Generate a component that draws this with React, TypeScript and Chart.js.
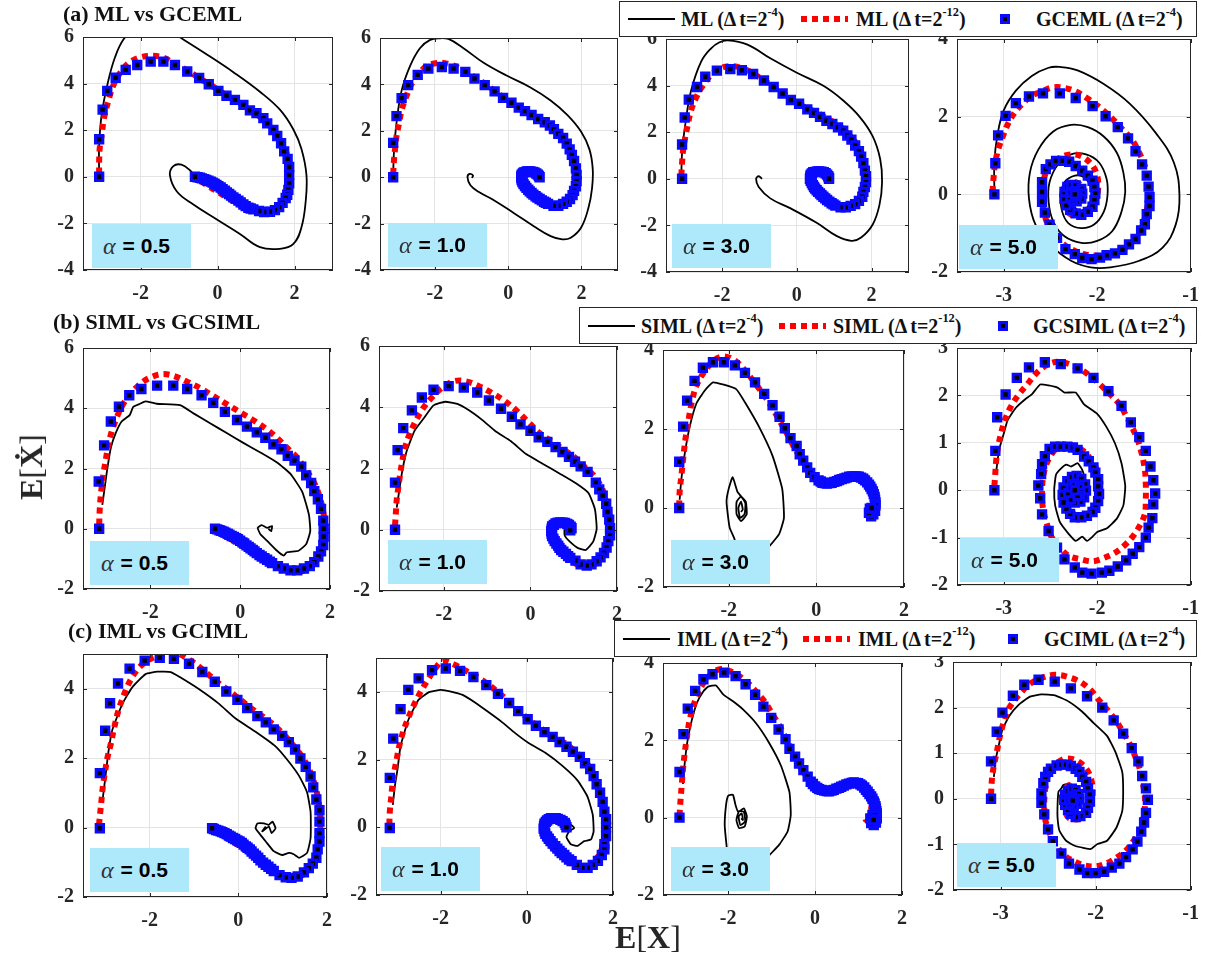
import React, { useEffect, useRef } from "react";
import { Chart, registerables } from "chart.js";
Chart.register(...registerables);

type Pt = [number, number];

// ---------- tick values ----------
const xTicksWide = [-2, 0, 2];
const xTicksNarrow = [-3, -2, -1];
const yTicksRowA = [-4, -2, 0, 2, 4, 6];
const yTicksA4 = [-2, 0, 2, 4];
const yTicksB12 = [-2, 0, 2, 4, 6];
const yTicksB3 = [-2, 0, 2, 4];
const yTicksSpiral = [-2, -1, 0, 1, 2, 3];
const yTicksC12 = [-2, 0, 2, 4];
const yTicksC3 = [-2, 0, 2, 4];

const alphas = ["0.5", "1.0", "3.0", "5.0"];
const rowTitles = ["(a) ML vs GCEML", "(b) SIML vs GCSIML", "(c) IML vs GCIML"];
const methodCoarse = ["ML", "SIML", "IML"];
const methodGC = ["GCEML", "GCSIML", "GCIML"];

// ---------- row (a) ----------
const a1Black: Pt[] = [[-3.08,0],[-3.08,1.33],[-3.01,2.73],[-2.84,4.14],[-2.67,5.12],[-2.45,5.89],[-2.2,6.25],[-1.6,6.35],[-1.1,6.1],[-0.9,5.9],[-0.29,5.26],[0.41,4.49],[1.1,3.65],[1.62,2.88],[1.97,2.03],[2.18,1.19],[2.31,0.07],[2.29,-1.05],[2.18,-2.17],[1.97,-2.88],[1.62,-3.09],[1.1,-3.02],[0.58,-2.45],[-0.03,-1.82],[-0.63,-1.19],[-1.06,-0.63],[-1.24,0.07],[-1.15,0.46],[-0.94,0.52],[-0.72,0.28],[-0.59,0.0]];
const a1Red: Pt[] = [[-3.08,0.14],[-3.08,0.7],[-3.06,1.33],[-3.01,1.82],[-2.97,2.38],[-2.9,2.9],[-2.81,3.44],[-2.71,3.93],[-2.54,4.45],[-2.32,4.87],[-2.02,5.12],[-1.69,5.19],[-1.41,5.12],[-1.11,4.84],[-0.78,4.56],[-0.46,4.21],[-0.17,3.93],[0.15,3.58],[0.45,3.3],[0.71,3.02],[0.97,2.73],[1.23,2.38],[1.45,2.01],[1.62,1.61],[1.75,1.19],[1.84,0.77],[1.86,0.35],[1.86,-0.07],[1.81,-0.63],[1.71,-1.05],[1.53,-1.4],[1.27,-1.54],[1.01,-1.5],[0.71,-1.33],[0.41,-1.05],[0.06,-0.7],[-0.29,-0.35],[-0.59,-0.03]];
const a1Blue: Pt[] = [[-3.08,0],[-3.08,1.61],[-2.99,2.88],[-2.87,3.69],[-2.65,4.25],[-2.39,4.59],[-2.09,4.8],[-1.74,4.94],[-1.41,4.94],[-1.11,4.8],[-0.79,4.52],[-0.48,4.24],[-0.23,3.97],[0.02,3.69],[0.23,3.48],[0.45,3.3],[0.67,3.09],[0.84,2.85],[1.01,2.73],[1.19,2.52],[1.29,2.29],[1.45,2.01],[1.55,1.75],[1.65,1.44],[1.73,1.09],[1.82,0.77],[1.86,0.42],[1.86,0.07],[1.86,-0.28],[1.84,-0.56],[1.81,-0.77],[1.77,-0.91],[1.69,-1.12],[1.6,-1.3],[1.49,-1.43],[1.36,-1.5],[1.21,-1.51],[1.08,-1.47],[0.93,-1.4],[0.86,-1.36],[0.8,-1.33],[0.73,-1.26],[0.67,-1.19],[0.6,-1.1],[0.54,-1.02],[0.47,-0.95],[0.41,-0.88],[0.35,-0.81],[0.3,-0.74],[0.24,-0.67],[0.19,-0.6],[0.13,-0.53],[0.08,-0.46],[0.02,-0.4],[-0.03,-0.35],[-0.08,-0.3],[-0.13,-0.25],[-0.18,-0.21],[-0.24,-0.17],[-0.3,-0.13],[-0.35,-0.1],[-0.41,-0.07],[-0.46,-0.04],[-0.52,-0.02],[-0.59,0]];

const a2Black: Pt[] = [[-3.14,0.07],[-3.12,1.06],[-3.05,2.32],[-2.91,3.73],[-2.68,4.79],[-2.41,5.56],[-2.13,5.92],[-1.86,5.99],[-1.63,5.96],[-1.22,5.56],[-0.67,4.93],[-0.03,4.37],[0.61,3.87],[1.16,3.31],[1.62,2.68],[1.99,1.97],[2.22,1.2],[2.31,0.35],[2.29,-0.49],[2.19,-1.34],[1.99,-2.18],[1.71,-2.61],[1.48,-2.68],[1.16,-2.54],[0.7,-2.11],[0.16,-1.55],[-0.39,-0.99],[-0.81,-0.63],[-1.03,-0.35],[-1.11,0],[-1.05,0.14],[-0.96,0.07],[-0.99,-0.03]];
const a2Red: Pt[] = [[-3.14,0.14],[-3.12,0.7],[-3.09,1.2],[-3.05,1.76],[-2.98,2.32],[-2.91,2.89],[-2.79,3.45],[-2.64,4.01],[-2.45,4.44],[-2.22,4.79],[-1.9,4.93],[-1.58,4.86],[-1.22,4.61],[-0.9,4.3],[-0.62,4.01],[-0.35,3.7],[-0.07,3.38],[0.2,3.1],[0.48,2.86],[0.75,2.61],[1.03,2.32],[1.25,2.04],[1.44,1.76],[1.6,1.41],[1.73,0.99],[1.8,0.49],[1.83,0.07],[1.8,-0.49],[1.71,-0.92],[1.53,-1.17],[1.3,-1.23],[1.03,-1.06],[0.75,-0.77],[0.52,-0.49],[0.36,-0.21],[0.34,0.07],[0.48,0.28],[0.66,0.28],[0.84,0.07]];
const a2Blue: Pt[] = [[-3.14,0],[-3.14,1.48],[-3.05,2.63],[-2.91,3.41],[-2.73,3.97],[-2.47,4.41],[-2.18,4.68],[-1.81,4.75],[-1.49,4.68],[-1.17,4.54],[-0.92,4.25],[-0.64,3.97],[-0.37,3.7],[-0.14,3.42],[0.09,3.21],[0.29,3.0],[0.46,2.85],[0.64,2.68],[0.82,2.51],[1.0,2.37],[1.14,2.23],[1.25,2.07],[1.37,1.87],[1.5,1.69],[1.6,1.45],[1.68,1.2],[1.74,0.96],[1.8,0.7],[1.85,0.38],[1.87,0.1],[1.87,-0.17],[1.85,-0.39],[1.8,-0.59],[1.76,-0.77],[1.69,-0.94],[1.6,-1.06],[1.5,-1.15],[1.37,-1.23],[1.24,-1.23],[1.09,-1.15],[1.03,-1.1],[0.98,-1.06],[0.92,-1.0],[0.86,-0.94],[0.8,-0.88],[0.75,-0.82],[0.69,-0.75],[0.64,-0.68],[0.59,-0.61],[0.55,-0.54],[0.5,-0.46],[0.46,-0.38],[0.42,-0.3],[0.39,-0.21],[0.37,-0.12],[0.36,-0.04],[0.36,0.04],[0.37,0.11],[0.4,0.16],[0.43,0.21],[0.48,0.23],[0.52,0.25],[0.56,0.25],[0.61,0.25],[0.67,0.23],[0.72,0.21],[0.77,0.16],[0.81,0.11],[0.84,0.05],[0.86,0]];

const a3Black: Pt[] = [[-3.09,0.03],[-3.07,1.12],[-2.98,2.38],[-2.83,3.78],[-2.56,5.03],[-2.3,5.59],[-2.08,5.85],[-1.85,5.94],[-1.32,5.76],[-0.71,5.17],[0,4.55],[0.71,3.99],[1.24,3.36],[1.68,2.66],[2.03,1.82],[2.23,0.84],[2.28,-0.14],[2.21,-1.12],[2.03,-1.96],[1.72,-2.52],[1.46,-2.66],[1.06,-2.45],[0.53,-1.89],[-0.18,-1.26],[-0.71,-0.84],[-1.02,-0.35],[-1.09,0],[-1.02,0.11],[-0.93,0]];
const a3Red: Pt[] = [[-3.09,0.14],[-3.07,0.7],[-3.04,1.26],[-2.98,1.82],[-2.91,2.38],[-2.83,2.94],[-2.69,3.5],[-2.52,3.99],[-2.28,4.48],[-1.99,4.78],[-1.68,4.83],[-1.37,4.69],[-1.06,4.41],[-0.79,4.13],[-0.53,3.85],[-0.26,3.57],[0,3.24],[0.31,3.01],[0.62,2.77],[0.88,2.52],[1.15,2.27],[1.37,1.93],[1.55,1.61],[1.68,1.19],[1.78,0.7],[1.84,0.14],[1.82,-0.42],[1.72,-0.84],[1.55,-1.12],[1.32,-1.26],[1.06,-1.19],[0.79,-0.94],[0.57,-0.63],[0.4,-0.28],[0.35,0.07],[0.46,0.28],[0.66,0.31],[0.84,0.14],[0.88,0]];
const a3Blue: Pt[] = [[-3.07,0],[-3.07,1.47],[-3.0,2.63],[-2.89,3.4],[-2.67,3.94],[-2.45,4.38],[-2.14,4.64],[-1.78,4.71],[-1.47,4.66],[-1.17,4.5],[-0.88,4.22],[-0.62,3.94],[-0.38,3.66],[-0.16,3.38],[0.06,3.22],[0.28,2.98],[0.46,2.83],[0.62,2.66],[0.79,2.49],[0.95,2.35],[1.1,2.21],[1.24,2.07],[1.35,1.86],[1.46,1.68],[1.56,1.43],[1.66,1.19],[1.72,0.95],[1.78,0.67],[1.82,0.35],[1.85,0.11],[1.85,-0.14],[1.82,-0.35],[1.78,-0.56],[1.75,-0.77],[1.66,-0.95],[1.56,-1.09],[1.44,-1.16],[1.31,-1.22],[1.17,-1.22],[1.03,-1.15],[0.98,-1.1],[0.93,-1.05],[0.87,-0.98],[0.81,-0.91],[0.76,-0.84],[0.71,-0.77],[0.66,-0.7],[0.62,-0.63],[0.57,-0.56],[0.53,-0.49],[0.49,-0.42],[0.46,-0.35],[0.43,-0.27],[0.4,-0.18],[0.37,-0.09],[0.35,0],[0.36,0.09],[0.37,0.17],[0.4,0.23],[0.44,0.28],[0.5,0.3],[0.55,0.32],[0.6,0.32],[0.66,0.31],[0.72,0.28],[0.77,0.24],[0.81,0.18],[0.84,0.11],[0.86,0.05],[0.86,0]];

const a4Black: Pt[] = [[-3.1,0.02],[-3.1,0.82],[-3.07,1.49],[-3.0,2.16],[-2.87,2.67],[-2.7,3.05],[-2.52,3.26],[-2.4,3.28],[-2.21,3.19],[-1.93,2.84],[-1.65,2.33],[-1.37,1.57],[-1.18,0.82],[-1.12,-0.03],[-1.16,-0.78],[-1.3,-1.37],[-1.55,-1.71],[-1.86,-1.88],[-2.07,-1.88],[-2.28,-1.71],[-2.49,-1.33],[-2.66,-0.78],[-2.73,-0.11],[-2.72,0.56],[-2.63,1.15],[-2.47,1.62],[-2.28,1.79],[-2.1,1.73],[-1.93,1.49],[-1.79,1.07],[-1.72,0.56],[-1.7,0.06],[-1.74,-0.45],[-1.84,-0.95],[-2.0,-1.2],[-2.17,-1.25],[-2.35,-1.08],[-2.47,-0.7],[-2.52,-0.19],[-2.51,0.31],[-2.42,0.77],[-2.28,1.03],[-2.12,1.03],[-1.98,0.82],[-1.9,0.4],[-1.89,-0.03],[-1.93,-0.45],[-2.03,-0.77],[-2.17,-0.87],[-2.31,-0.74],[-2.38,-0.4],[-2.39,-0.03],[-2.35,0.31],[-2.24,0.48],[-2.14,0.44],[-2.07,0.19],[-2.06,-0.11],[-2.12,-0.36],[-2.21,-0.4],[-2.26,-0.19],[-2.25,0.06],[-2.19,0.14],[-2.16,0],[-2.19,-0.1],[-2.22,0]];
const a4Red: Pt[] = [[-3.12,0.06],[-3.11,0.4],[-3.09,0.82],[-3.06,1.15],[-3.01,1.49],[-2.96,1.79],[-2.89,2.08],[-2.8,2.33],[-2.7,2.54],[-2.59,2.65],[-2.49,2.75],[-2.37,2.75],[-2.23,2.65],[-2.1,2.46],[-1.98,2.25],[-1.86,2.0],[-1.74,1.7],[-1.63,1.41],[-1.55,1.07],[-1.49,0.73],[-1.46,0.4],[-1.45,0.06],[-1.46,-0.28],[-1.49,-0.61],[-1.55,-0.95],[-1.62,-1.2],[-1.72,-1.41],[-1.86,-1.54],[-2.0,-1.58],[-2.14,-1.54],[-2.28,-1.41],[-2.4,-1.2],[-2.51,-0.87],[-2.57,-0.45],[-2.59,-0.03],[-2.57,0.4],[-2.51,0.73],[-2.4,0.94],[-2.28,1.03],[-2.16,0.97],[-2.06,0.77],[-2.0,0.48],[-1.99,0.14],[-2.02,-0.19],[-2.09,-0.45],[-2.19,-0.57],[-2.3,-0.49],[-2.36,-0.24],[-2.37,0.06],[-2.31,0.27],[-2.23,0.31],[-2.16,0.19],[-2.14,-0.03],[-2.19,-0.17],[-2.24,-0.07],[-2.23,0.02]];
const a4Blue: Pt[] = [[-3.1,0],[-3.09,0.8],[-3.06,1.52],[-2.98,2.02],[-2.87,2.35],[-2.73,2.52],[-2.58,2.6],[-2.4,2.6],[-2.23,2.48],[-2.05,2.27],[-1.91,2.01],[-1.78,1.73],[-1.67,1.44],[-1.59,1.11],[-1.52,0.77],[-1.47,0.48],[-1.45,0.2],[-1.44,-0.07],[-1.44,-0.3],[-1.47,-0.51],[-1.49,-0.77],[-1.53,-0.93],[-1.59,-1.15],[-1.66,-1.29],[-1.73,-1.43],[-1.81,-1.52],[-1.9,-1.57],[-1.97,-1.63],[-2.06,-1.67],[-2.16,-1.64],[-2.24,-1.54],[-2.34,-1.41],[-2.43,-1.12],[-2.51,-0.78],[-2.56,-0.47],[-2.59,-0.19],[-2.59,0.06],[-2.59,0.31],[-2.55,0.65],[-2.5,0.77],[-2.44,0.86],[-2.37,0.86],[-2.3,0.84],[-2.23,0.73],[-2.16,0.61],[-2.1,0.48],[-2.05,0.35],[-2.03,0.19],[-2.02,0.02],[-2.03,-0.15],[-2.05,-0.32],[-2.1,-0.45],[-2.17,-0.53],[-2.23,-0.49],[-2.29,-0.4],[-2.33,-0.28],[-2.35,-0.11],[-2.35,0.06],[-2.32,0.19],[-2.28,0.24],[-2.23,0.23],[-2.17,0.14],[-2.16,0.02],[-2.17,-0.11],[-2.22,-0.18],[-2.26,-0.15],[-2.29,-0.07],[-2.28,0.04],[-2.24,0.08],[-2.21,0.02],[-2.23,-0.04],[-2.24,0]];

// ---------- row (b) ----------
const b1Black: Pt[] = [[-3.07,0.79],[-3.02,1.33],[-2.96,1.98],[-2.88,2.69],[-2.77,3.18],[-2.64,3.56],[-2.46,3.77],[-2.38,4.05],[-2.23,4.15],[-2.11,4.23],[-1.86,4.15],[-1.34,4.1],[-1.04,3.83],[-0.67,3.5],[-0.3,3.18],[0.07,2.85],[0.45,2.53],[0.82,2.2],[1.12,1.82],[1.38,1.23],[1.53,0.47],[1.56,-0.08],[1.47,-0.51],[1.3,-0.73],[1.04,-0.78],[0.97,-0.89],[0.82,-0.73],[0.6,-0.4],[0.45,-0.18],[0.39,0.03],[0.48,0.12],[0.6,0.03],[0.71,0.09],[0.69,-0.08],[0.63,0]];
const b1Red: Pt[] = [[-3.14,0.14],[-3.13,0.57],[-3.11,1.01],[-3.08,1.44],[-3.04,1.88],[-2.99,2.31],[-2.94,2.74],[-2.87,3.18],[-2.77,3.61],[-2.64,4.05],[-2.47,4.43],[-2.27,4.75],[-2.03,5.0],[-1.75,5.13],[-1.49,5.08],[-1.15,4.86],[-0.86,4.64],[-0.56,4.37],[-0.26,4.1],[0.04,3.83],[0.34,3.56],[0.6,3.29],[0.82,3.02],[1.04,2.69],[1.27,2.36],[1.45,1.98],[1.64,1.55],[1.77,1.06],[1.86,0.47],[1.88,-0.08],[1.82,-0.62],[1.7,-1.05],[1.53,-1.32],[1.3,-1.43],[1.04,-1.38],[0.74,-1.21],[0.45,-0.94],[0.15,-0.67],[-0.15,-0.4],[-0.41,-0.18],[-0.56,0]];
const b1Blue: Pt[] = [[-3.14,0],[-3.15,1.57],[-3.03,2.77],[-2.88,3.56],[-2.7,4.05],[-2.47,4.43],[-2.2,4.64],[-1.85,4.75],[-1.49,4.75],[-1.18,4.64],[-0.86,4.43],[-0.6,4.18],[-0.34,3.88],[-0.07,3.61],[0.15,3.39],[0.37,3.2],[0.56,3.02],[0.74,2.8],[0.92,2.64],[1.06,2.42],[1.21,2.26],[1.36,2.06],[1.47,1.77],[1.58,1.52],[1.65,1.25],[1.73,0.98],[1.8,0.66],[1.85,0.27],[1.86,0],[1.86,-0.26],[1.85,-0.54],[1.8,-0.75],[1.74,-0.92],[1.65,-1.11],[1.55,-1.24],[1.42,-1.32],[1.27,-1.38],[1.12,-1.38],[0.97,-1.32],[0.84,-1.24],[0.71,-1.14],[0.66,-1.09],[0.6,-1.03],[0.54,-0.98],[0.48,-0.92],[0.43,-0.87],[0.37,-0.81],[0.32,-0.75],[0.28,-0.7],[0.23,-0.65],[0.19,-0.6],[0.14,-0.55],[0.09,-0.49],[0.05,-0.45],[0,-0.4],[-0.05,-0.35],[-0.09,-0.31],[-0.14,-0.27],[-0.19,-0.24],[-0.24,-0.2],[-0.28,-0.16],[-0.33,-0.13],[-0.37,-0.1],[-0.42,-0.07],[-0.46,-0.05],[-0.51,-0.02],[-0.56,0]];

const b2Black: Pt[] = [[-3.09,0.72],[-3.03,1.3],[-2.96,1.94],[-2.86,2.57],[-2.68,3.23],[-2.47,3.63],[-2.24,4.06],[-1.97,4.18],[-1.69,4.11],[-1.42,3.9],[-1.11,3.58],[-0.8,3.21],[-0.45,2.89],[-0.1,2.47],[0.29,2.15],[0.68,1.83],[1.06,1.51],[1.34,1.2],[1.49,0.67],[1.53,0.03],[1.45,-0.39],[1.28,-0.66],[1.1,-0.6],[0.91,-0.39],[0.79,-0.18],[0.79,0.03],[0.89,0.14],[1.0,0.03],[0.95,-0.07]];
const b2Red: Pt[] = [[-3.13,0.14],[-3.11,0.56],[-3.09,0.99],[-3.05,1.41],[-3.01,1.83],[-2.96,2.26],[-2.9,2.68],[-2.8,3.1],[-2.66,3.53],[-2.49,3.95],[-2.28,4.32],[-2.04,4.64],[-1.77,4.85],[-1.5,4.85],[-1.19,4.69],[-0.88,4.46],[-0.61,4.22],[-0.33,3.9],[-0.06,3.53],[0.21,3.16],[0.48,2.89],[0.75,2.63],[1.03,2.36],[1.26,2.04],[1.49,1.73],[1.65,1.36],[1.76,0.93],[1.83,0.46],[1.83,-0.07],[1.76,-0.6],[1.62,-0.97],[1.41,-1.19],[1.18,-1.19],[0.95,-1.03],[0.75,-0.82],[0.58,-0.55],[0.48,-0.23],[0.5,0.05],[0.62,0.21],[0.79,0.24],[0.92,0.12],[0.95,-0.02]];
const b2Blue: Pt[] = [[-3.13,0],[-3.13,1.54],[-3.07,2.6],[-2.94,3.32],[-2.74,3.9],[-2.51,4.32],[-2.24,4.57],[-1.89,4.69],[-1.54,4.64],[-1.23,4.48],[-0.96,4.22],[-0.68,3.95],[-0.43,3.69],[-0.23,3.44],[0,3.23],[0.19,3.02],[0.39,2.87],[0.58,2.7],[0.74,2.54],[0.89,2.38],[1.03,2.22],[1.16,2.07],[1.32,1.89],[1.51,1.54],[1.59,1.32],[1.67,1.11],[1.75,0.85],[1.78,0.58],[1.82,0.33],[1.84,0.05],[1.84,-0.18],[1.8,-0.37],[1.76,-0.58],[1.7,-0.76],[1.62,-0.9],[1.53,-1.03],[1.41,-1.13],[1.3,-1.17],[1.16,-1.13],[1.04,-1.01],[0.92,-0.92],[0.87,-0.86],[0.82,-0.79],[0.76,-0.72],[0.71,-0.66],[0.67,-0.59],[0.64,-0.52],[0.6,-0.45],[0.56,-0.37],[0.53,-0.29],[0.5,-0.21],[0.49,-0.13],[0.48,-0.05],[0.49,0.03],[0.5,0.11],[0.54,0.16],[0.58,0.21],[0.63,0.23],[0.69,0.24],[0.75,0.23],[0.8,0.22],[0.85,0.19],[0.89,0.16],[0.93,0.1],[0.95,0.05],[0.92,-0.02]];

const b3Black: Pt[] = [[-3.12,0.21],[-3.08,0.74],[-3.0,1.4],[-2.89,2.06],[-2.74,2.64],[-2.55,2.97],[-2.36,3.18],[-2.14,3.13],[-1.83,3.01],[-1.61,2.64],[-1.31,2.06],[-1.0,1.32],[-0.78,0.49],[-0.74,-0.25],[-0.85,-0.66],[-1.15,-1.07],[-1.31,-1.28],[-1.61,-1.24],[-1.83,-0.99],[-1.87,-0.78],[-1.98,-0.49],[-2.05,0.16],[-2.0,0.49],[-1.91,0.78],[-1.8,0.41],[-1.68,0.25],[-1.61,0.16],[-1.59,-0.16],[-1.72,-0.33],[-1.82,-0.16],[-1.82,0.16],[-1.72,0.29],[-1.62,0.12],[-1.64,-0.16],[-1.74,-0.25],[-1.78,0],[-1.72,0.16],[-1.68,-0.04],[-1.72,-0.1]];
const b3Red: Pt[] = [[-3.13,0.04],[-3.12,0.41],[-3.08,0.82],[-3.04,1.24],[-2.99,1.73],[-2.93,2.14],[-2.85,2.64],[-2.74,3.09],[-2.55,3.46],[-2.32,3.75],[-2.1,3.84],[-1.83,3.71],[-1.61,3.46],[-1.38,3.13],[-1.19,2.85],[-1.02,2.56],[-0.85,2.23],[-0.66,1.86],[-0.48,1.48],[-0.29,1.15],[-0.14,0.91],[0.02,0.74],[0.2,0.62],[0.43,0.62],[0.69,0.74],[0.88,0.82],[1.07,0.76],[1.22,0.58],[1.32,0.33],[1.34,0.08],[1.3,-0.16],[1.22,-0.29],[1.17,-0.08],[1.22,0.04],[1.26,0]];
const b3Blue: Pt[] = [[-3.13,0],[-3.13,1.17],[-3.04,2.06],[-2.95,2.72],[-2.78,3.22],[-2.59,3.55],[-2.36,3.69],[-2.11,3.69],[-1.86,3.61],[-1.63,3.42],[-1.4,3.18],[-1.19,2.89],[-1.0,2.6],[-0.84,2.31],[-0.72,2.02],[-0.59,1.77],[-0.45,1.57],[-0.38,1.36],[-0.3,1.2],[-0.21,1.03],[-0.14,0.89],[-0.04,0.78],[0.05,0.7],[0.1,0.67],[0.14,0.64],[0.19,0.63],[0.24,0.62],[0.3,0.63],[0.35,0.64],[0.41,0.66],[0.47,0.68],[0.52,0.71],[0.58,0.73],[0.64,0.75],[0.69,0.77],[0.75,0.79],[0.81,0.8],[0.87,0.8],[0.92,0.8],[0.97,0.79],[1.02,0.77],[1.07,0.74],[1.11,0.7],[1.16,0.65],[1.2,0.59],[1.23,0.54],[1.26,0.48],[1.29,0.42],[1.31,0.35],[1.33,0.28],[1.34,0.21],[1.35,0.14],[1.35,0.07],[1.34,-0.07],[1.3,-0.16],[1.25,-0.21],[1.2,-0.12],[1.22,-0.02],[1.26,0]];

const b4Black: Pt[] = [[-3.08,0.4],[-3.05,0.85],[-3.0,1.19],[-2.96,1.47],[-2.87,1.74],[-2.77,1.92],[-2.7,2.02],[-2.61,2.23],[-2.52,2.21],[-2.42,2.16],[-2.35,2.06],[-2.23,2.06],[-2.14,1.81],[-2.0,1.61],[-1.9,1.33],[-1.81,0.99],[-1.74,0.57],[-1.7,0.09],[-1.72,-0.32],[-1.79,-0.6],[-1.9,-0.81],[-2.0,-0.88],[-2.05,-0.98],[-2.11,-1.07],[-2.16,-0.98],[-2.23,-1.07],[-2.31,-0.91],[-2.4,-0.67],[-2.45,-0.32],[-2.46,0.02],[-2.44,0.33],[-2.38,0.47],[-2.33,0.54],[-2.28,0.5],[-2.21,0.57],[-2.16,0.43],[-2.12,0.16],[-2.12,-0.19],[-2.17,-0.32],[-2.24,-0.29],[-2.3,-0.08],[-2.28,0.12],[-2.21,0.16],[-2.17,-0.01],[-2.23,-0.12],[-2.24,0]];
const b4Red: Pt[] = [[-3.1,0.09],[-3.09,0.37],[-3.08,0.64],[-3.06,0.92],[-3.03,1.19],[-2.99,1.47],[-2.93,1.74],[-2.85,1.99],[-2.75,2.23],[-2.65,2.47],[-2.54,2.64],[-2.42,2.71],[-2.3,2.66],[-2.17,2.54],[-2.07,2.4],[-1.97,2.23],[-1.86,2.02],[-1.76,1.81],[-1.69,1.57],[-1.62,1.3],[-1.56,1.02],[-1.52,0.74],[-1.49,0.43],[-1.48,0.12],[-1.48,-0.19],[-1.49,-0.5],[-1.55,-0.77],[-1.62,-0.98],[-1.7,-1.15],[-1.81,-1.32],[-1.93,-1.43],[-2.05,-1.5],[-2.17,-1.46],[-2.3,-1.39],[-2.4,-1.22],[-2.49,-0.98],[-2.54,-0.7],[-2.58,-0.39],[-2.59,-0.05],[-2.58,0.26],[-2.54,0.57],[-2.47,0.81],[-2.38,0.95],[-2.28,0.95],[-2.17,0.86],[-2.09,0.71],[-2.02,0.5],[-1.98,0.23],[-1.98,-0.05],[-2.02,-0.29],[-2.09,-0.46],[-2.19,-0.53],[-2.28,-0.46],[-2.33,-0.26],[-2.33,-0.05],[-2.3,0.12],[-2.23,0.19],[-2.17,0.09],[-2.17,-0.08],[-2.23,-0.19],[-2.27,-0.08],[-2.24,0.02]];
const b4Blue: Pt[] = [[-3.1,0],[-3.09,0.83],[-3.07,1.54],[-2.98,2.02],[-2.86,2.37],[-2.73,2.59],[-2.56,2.7],[-2.39,2.66],[-2.21,2.57],[-2.04,2.37],[-1.88,2.09],[-1.74,1.78],[-1.64,1.43],[-1.55,1.12],[-1.48,0.83],[-1.43,0.5],[-1.4,0.21],[-1.38,-0.07],[-1.4,-0.3],[-1.41,-0.59],[-1.45,-0.79],[-1.48,-1.0],[-1.55,-1.2],[-1.62,-1.34],[-1.69,-1.48],[-1.78,-1.61],[-1.87,-1.7],[-1.95,-1.74],[-2.06,-1.76],[-2.16,-1.74],[-2.24,-1.63],[-2.35,-1.46],[-2.43,-1.21],[-2.52,-0.86],[-2.59,-0.51],[-2.61,-0.17],[-2.63,0.1],[-2.6,0.34],[-2.59,0.55],[-2.56,0.72],[-2.51,0.87],[-2.45,0.92],[-2.39,0.92],[-2.32,0.92],[-2.26,0.9],[-2.21,0.85],[-2.14,0.71],[-2.09,0.61],[-2.04,0.48],[-2.02,0.37],[-1.99,0.23],[-1.99,0.08],[-1.98,-0.08],[-1.99,-0.23],[-2.02,-0.37],[-2.05,-0.46],[-2.11,-0.54],[-2.17,-0.57],[-2.24,-0.57],[-2.29,-0.5],[-2.33,-0.39],[-2.36,-0.26],[-2.37,-0.1],[-2.36,0.06],[-2.32,0.19],[-2.27,0.28],[-2.22,0.3],[-2.17,0.24],[-2.13,0.12],[-2.12,-0.01],[-2.14,-0.15],[-2.18,-0.24],[-2.24,-0.26],[-2.28,-0.19],[-2.31,-0.06],[-2.28,0.06],[-2.24,0.1],[-2.19,0.06],[-2.18,-0.05],[-2.21,-0.12],[-2.24,0]];

// ---------- row (c) ----------
const c1Black: Pt[] = [[-3.06,0.78],[-3.0,1.4],[-2.93,2.15],[-2.84,2.81],[-2.61,3.57],[-2.39,4.04],[-2.09,4.42],[-1.82,4.49],[-1.52,4.48],[-1.3,4.32],[-0.89,3.99],[-0.44,3.57],[-0.06,3.14],[0.39,2.76],[0.84,2.34],[1.1,1.96],[1.37,1.49],[1.55,1.02],[1.63,0.45],[1.63,-0.3],[1.55,-0.73],[1.37,-0.87],[1.25,-0.77],[1.14,-0.73],[0.99,-0.79],[0.8,-0.68],[0.62,-0.4],[0.5,-0.21],[0.39,-0.02],[0.43,0.12],[0.58,0.12],[0.69,0.08],[0.77,0.17],[0.84,-0.02],[0.75,-0.16],[0.69,0.03],[0.54,-0.11],[0.62,0.03]];
const c1Red: Pt[] = [[-3.14,0.08],[-3.11,0.45],[-3.08,0.83],[-3.05,1.21],[-3.0,1.63],[-2.95,2.01],[-2.87,2.43],[-2.8,2.86],[-2.7,3.38],[-2.57,3.85],[-2.42,4.27],[-2.24,4.6],[-2.01,4.84],[-1.71,4.98],[-1.41,5.03],[-1.11,4.84],[-0.81,4.56],[-0.51,4.23],[-0.21,3.94],[0.09,3.64],[0.35,3.38],[0.62,3.14],[0.84,2.91],[1.07,2.62],[1.29,2.29],[1.48,1.96],[1.63,1.58],[1.74,1.16],[1.82,0.69],[1.85,0.17],[1.83,-0.35],[1.76,-0.82],[1.59,-1.2],[1.37,-1.43],[1.14,-1.48],[0.88,-1.34],[0.58,-1.1],[0.28,-0.77],[-0.02,-0.49],[-0.32,-0.25],[-0.59,-0.02]];
const c1Blue: Pt[] = [[-3.12,-0.02],[-3.12,1.57],[-3.0,2.79],[-2.89,3.58],[-2.71,4.15],[-2.45,4.58],[-2.11,4.81],[-1.77,4.89],[-1.45,4.86],[-1.11,4.72],[-0.81,4.48],[-0.53,4.2],[-0.27,3.92],[-0.02,3.68],[0.2,3.44],[0.43,3.21],[0.62,3.03],[0.8,2.83],[0.99,2.64],[1.14,2.46],[1.28,2.25],[1.4,1.99],[1.52,1.75],[1.63,1.47],[1.69,1.16],[1.76,0.81],[1.83,0.5],[1.83,0.17],[1.83,-0.16],[1.83,-0.4],[1.79,-0.63],[1.76,-0.87],[1.68,-1.04],[1.59,-1.17],[1.48,-1.29],[1.34,-1.41],[1.2,-1.45],[1.07,-1.43],[0.93,-1.37],[0.8,-1.25],[0.74,-1.19],[0.68,-1.13],[0.62,-1.07],[0.56,-1.01],[0.5,-0.94],[0.45,-0.87],[0.4,-0.81],[0.35,-0.75],[0.3,-0.69],[0.26,-0.63],[0.21,-0.58],[0.17,-0.54],[0.12,-0.49],[0.08,-0.44],[0.03,-0.4],[-0.02,-0.37],[-0.07,-0.33],[-0.12,-0.3],[-0.17,-0.26],[-0.21,-0.23],[-0.26,-0.19],[-0.31,-0.16],[-0.36,-0.13],[-0.4,-0.11],[-0.45,-0.09],[-0.5,-0.07],[-0.55,-0.04],[-0.59,-0.02]];

const c2Black: Pt[] = [[-3.11,0.66],[-3.06,1.24],[-3.0,1.72],[-2.93,2.4],[-2.75,3.17],[-2.51,3.77],[-2.27,3.99],[-2.0,4.06],[-1.76,4.01],[-1.49,3.91],[-1.22,3.7],[-0.9,3.41],[-0.59,3.12],[-0.27,2.78],[0.04,2.49],[0.43,2.2],[0.82,1.82],[1.18,1.38],[1.41,0.9],[1.53,0.37],[1.55,-0.12],[1.49,-0.36],[1.33,-0.41],[1.18,-0.55],[1.02,-0.5],[0.92,-0.29],[0.98,-0.12],[1.1,-0.02],[1.02,0.08],[0.94,-0.07],[1.04,-0.1]];
const c2Red: Pt[] = [[-3.19,0.08],[-3.18,0.46],[-3.15,0.85],[-3.12,1.24],[-3.08,1.62],[-3.02,2.01],[-2.96,2.4],[-2.88,2.78],[-2.77,3.17],[-2.64,3.56],[-2.49,3.94],[-2.31,4.33],[-2.16,4.62],[-1.96,4.91],[-1.69,4.81],[-1.41,4.62],[-1.14,4.43],[-0.9,4.23],[-0.67,3.99],[-0.43,3.73],[-0.2,3.46],[0.04,3.19],[0.27,2.98],[0.51,2.76],[0.75,2.59],[0.98,2.4],[1.2,2.15],[1.41,1.86],[1.57,1.53],[1.69,1.14],[1.76,0.71],[1.8,0.27],[1.8,-0.16],[1.75,-0.6],[1.61,-0.94],[1.41,-1.18],[1.18,-1.18],[0.94,-0.99],[0.71,-0.74],[0.51,-0.5],[0.38,-0.21],[0.39,0.08],[0.55,0.22],[0.75,0.22],[0.92,0.08],[0.96,-0.02]];
const c2Blue: Pt[] = [[-3.18,-0.02],[-3.18,1.46],[-3.1,2.62],[-2.93,3.49],[-2.75,4.06],[-2.51,4.4],[-2.2,4.64],[-1.88,4.69],[-1.55,4.62],[-1.24,4.44],[-0.94,4.2],[-0.67,3.94],[-0.41,3.67],[-0.2,3.43],[0.02,3.19],[0.21,3.0],[0.41,2.81],[0.6,2.67],[0.76,2.52],[0.92,2.38],[1.07,2.23],[1.23,2.08],[1.35,1.89],[1.47,1.72],[1.55,1.51],[1.62,1.27],[1.7,1.02],[1.76,0.75],[1.8,0.46],[1.84,0.24],[1.84,0],[1.84,-0.26],[1.8,-0.5],[1.8,-0.65],[1.74,-0.82],[1.65,-0.99],[1.53,-1.11],[1.41,-1.2],[1.29,-1.2],[1.16,-1.11],[1.04,-1.0],[0.98,-0.95],[0.92,-0.89],[0.87,-0.82],[0.81,-0.76],[0.76,-0.7],[0.71,-0.63],[0.66,-0.56],[0.6,-0.48],[0.55,-0.41],[0.51,-0.34],[0.47,-0.27],[0.43,-0.19],[0.41,-0.12],[0.39,-0.04],[0.4,0.04],[0.41,0.11],[0.44,0.16],[0.47,0.2],[0.51,0.24],[0.56,0.27],[0.61,0.27],[0.67,0.27],[0.72,0.25],[0.78,0.22],[0.83,0.18],[0.88,0.13],[0.9,0.07],[0.92,0]];

const c3Black: Pt[] = [[-3.04,0.87],[-3.0,1.41],[-2.94,1.96],[-2.84,2.51],[-2.72,2.97],[-2.57,3.27],[-2.46,3.39],[-2.28,3.42],[-2.11,3.18],[-1.89,3.01],[-1.66,2.8],[-1.35,2.43],[-1.05,1.92],[-0.78,1.33],[-0.59,0.66],[-0.56,0.07],[-0.63,-0.35],[-0.82,-0.69],[-1.13,-1.07],[-1.35,-1.45],[-1.73,-1.36],[-2.0,-1.03],[-2.04,-0.69],[-2.08,-0.19],[-2.05,0.32],[-2.0,0.57],[-1.89,0.59],[-1.83,0.32],[-1.77,0.15],[-1.64,0.24],[-1.57,0.03],[-1.62,-0.23],[-1.75,-0.27],[-1.81,-0.06],[-1.75,0.17],[-1.64,0.15],[-1.61,-0.1],[-1.72,-0.19],[-1.76,0.03],[-1.69,0.11],[-1.66,-0.06],[-1.7,-0.02]];
const c3Red: Pt[] = [[-3.12,0.05],[-3.1,0.4],[-3.07,0.83],[-3.04,1.25],[-3.0,1.67],[-2.95,2.09],[-2.89,2.51],[-2.81,2.85],[-2.71,3.18],[-2.57,3.48],[-2.4,3.71],[-2.19,3.84],[-1.96,3.79],[-1.73,3.65],[-1.54,3.48],[-1.35,3.25],[-1.16,3.0],[-0.99,2.69],[-0.82,2.38],[-0.67,2.05],[-0.52,1.71],[-0.37,1.37],[-0.21,1.08],[-0.05,0.87],[0.13,0.74],[0.32,0.7],[0.55,0.76],[0.78,0.87],[0.97,0.87],[1.12,0.74],[1.23,0.53],[1.29,0.28],[1.27,0.05],[1.17,-0.06],[1.14,0.05]];
const c3Blue: Pt[] = [[-3.12,0],[-3.12,1.18],[-3.03,2.16],[-2.93,2.82],[-2.76,3.28],[-2.57,3.58],[-2.36,3.71],[-2.09,3.75],[-1.83,3.66],[-1.6,3.45],[-1.38,3.18],[-1.19,2.87],[-1.01,2.58],[-0.84,2.28],[-0.68,2.03],[-0.59,1.78],[-0.46,1.58],[-0.37,1.4],[-0.27,1.23],[-0.17,1.06],[-0.1,0.93],[-0.05,0.87],[0,0.81],[0.05,0.77],[0.09,0.74],[0.15,0.72],[0.21,0.7],[0.27,0.69],[0.32,0.68],[0.38,0.7],[0.43,0.72],[0.49,0.75],[0.55,0.77],[0.6,0.8],[0.66,0.83],[0.72,0.86],[0.78,0.88],[0.84,0.9],[0.89,0.91],[0.94,0.9],[0.99,0.89],[1.04,0.86],[1.08,0.83],[1.13,0.78],[1.17,0.72],[1.21,0.67],[1.25,0.61],[1.29,0.55],[1.32,0.49],[1.35,0.42],[1.37,0.36],[1.39,0.3],[1.4,0.24],[1.41,0.17],[1.42,0.11],[1.42,0.04],[1.42,-0.02],[1.4,-0.13],[1.35,-0.19],[1.29,-0.14],[1.27,-0.02],[1.32,0.07],[1.38,0.05],[1.4,-0.03],[1.35,-0.06]];

const c4Black: Pt[] = [[-3.07,0.48],[-3.05,0.87],[-3.02,1.16],[-2.98,1.52],[-2.91,1.81],[-2.81,2.06],[-2.69,2.24],[-2.57,2.29],[-2.43,2.27],[-2.28,2.13],[-2.14,1.91],[-2.02,1.66],[-1.88,1.38],[-1.79,1.02],[-1.72,0.59],[-1.71,0.16],[-1.72,-0.27],[-1.78,-0.63],[-1.88,-0.92],[-1.98,-0.99],[-2.05,-1.1],[-2.12,-1.08],[-2.22,-1.03],[-2.31,-0.92],[-2.38,-0.7],[-2.4,-0.42],[-2.4,-0.13],[-2.39,0.16],[-2.36,0.23],[-2.34,0.3],[-2.29,0.32],[-2.24,0.3],[-2.21,0.16],[-2.19,-0.09],[-2.22,-0.24],[-2.29,-0.2],[-2.33,-0.02],[-2.28,0.12],[-2.22,0.01],[-2.27,-0.09],[-2.28,0]];
const c4Red: Pt[] = [[-3.1,0.09],[-3.09,0.44],[-3.07,0.73],[-3.04,1.02],[-3.01,1.34],[-2.97,1.66],[-2.91,1.99],[-2.81,2.27],[-2.69,2.52],[-2.57,2.65],[-2.43,2.72],[-2.29,2.67],[-2.16,2.56],[-2.05,2.38],[-1.96,2.15],[-1.86,1.91],[-1.78,1.7],[-1.71,1.45],[-1.64,1.2],[-1.58,0.91],[-1.53,0.62],[-1.5,0.3],[-1.48,-0.02],[-1.49,-0.34],[-1.53,-0.67],[-1.6,-0.92],[-1.68,-1.13],[-1.78,-1.29],[-1.89,-1.42],[-2.0,-1.48],[-2.12,-1.46],[-2.22,-1.38],[-2.33,-1.24],[-2.41,-1.03],[-2.48,-0.77],[-2.53,-0.45],[-2.54,-0.13],[-2.53,0.23],[-2.5,0.52],[-2.43,0.73],[-2.34,0.87],[-2.24,0.87],[-2.15,0.77],[-2.08,0.6],[-2.04,0.37],[-2.03,0.12],[-2.05,-0.13],[-2.1,-0.34],[-2.19,-0.45],[-2.28,-0.42],[-2.33,-0.24],[-2.35,-0.02],[-2.33,0.19],[-2.28,0.3],[-2.22,0.27],[-2.19,0.09],[-2.21,-0.09],[-2.26,-0.16],[-2.29,-0.06],[-2.28,0.01]];
const c4Blue: Pt[] = [[-3.1,0],[-3.1,0.82],[-3.04,1.47],[-2.98,1.89],[-2.87,2.26],[-2.75,2.5],[-2.6,2.61],[-2.43,2.57],[-2.26,2.42],[-2.09,2.25],[-1.93,2.0],[-1.81,1.72],[-1.71,1.43],[-1.62,1.11],[-1.55,0.82],[-1.51,0.5],[-1.47,0.23],[-1.45,-0.02],[-1.47,-0.31],[-1.49,-0.52],[-1.52,-0.72],[-1.56,-0.94],[-1.61,-1.11],[-1.68,-1.28],[-1.75,-1.42],[-1.83,-1.51],[-1.91,-1.6],[-2.0,-1.63],[-2.09,-1.63],[-2.17,-1.55],[-2.28,-1.42],[-2.36,-1.2],[-2.45,-0.93],[-2.5,-0.67],[-2.54,-0.34],[-2.57,-0.09],[-2.57,0.12],[-2.55,0.34],[-2.53,0.48],[-2.5,0.59],[-2.47,0.66],[-2.41,0.73],[-2.36,0.75],[-2.31,0.75],[-2.26,0.72],[-2.21,0.66],[-2.17,0.59],[-2.14,0.48],[-2.1,0.37],[-2.08,0.23],[-2.06,0.09],[-2.06,-0.06],[-2.08,-0.2],[-2.1,-0.31],[-2.16,-0.38],[-2.21,-0.4],[-2.26,-0.33],[-2.29,-0.24],[-2.32,-0.13],[-2.33,-0.02],[-2.32,0.09],[-2.29,0.17],[-2.25,0.22],[-2.21,0.19],[-2.18,0.1],[-2.17,-0.01],[-2.19,-0.11],[-2.23,-0.16],[-2.27,-0.11],[-2.28,-0.02],[-2.25,0.05],[-2.22,0.01],[-2.24,-0.04]];

// ---------- layout (not data) ----------
type PanelCfg = {
  row: number; col: number; rect: [number, number, number, number];
  xr: [number, number]; yr: [number, number]; xt: number[]; yt: number[];
  black: Pt[]; red: Pt[]; blue: Pt[]; box: [number, number]; bt: number;
};

const PANELS: PanelCfg[] = [
  { row: 0, col: 0, rect: [83, 32, 333, 270], xr: [-3.5, 3], yr: [-4, 6], xt: xTicksWide, yt: yTicksRowA, black: a1Black, red: a1Red, blue: a1Blue, box: [92, 224], bt: 0.4 },
  { row: 0, col: 1, rect: [380, 33, 618, 270], xr: [-3.5, 3], yr: [-4, 6], xt: xTicksWide, yt: yTicksRowA, black: a2Black, red: a2Red, blue: a2Blue, box: [388, 223], bt: 0.4 },
  { row: 0, col: 2, rect: [666, 34, 909, 272], xr: [-3.5, 3], yr: [-4, 6], xt: xTicksWide, yt: yTicksRowA, black: a3Black, red: a3Red, blue: a3Blue, box: [672, 224], bt: 0.4 },
  { row: 0, col: 3, rect: [957, 34, 1195, 272], xr: [-3.5, -1], yr: [-2, 4], xt: xTicksNarrow, yt: yTicksA4, black: a4Black, red: a4Red, blue: a4Blue, box: [959, 225], bt: 0.4 },
  { row: 1, col: 0, rect: [83, 343, 331, 589], xr: [-3.5, 2], yr: [-2, 6], xt: xTicksWide, yt: yTicksB12, black: b1Black, red: b1Red, blue: b1Blue, box: [90, 541], bt: 0.15 },
  { row: 1, col: 1, rect: [379, 341, 618, 591], xr: [-3.5, 2], yr: [-2, 6], xt: xTicksWide, yt: yTicksB12, black: b2Black, red: b2Red, blue: b2Blue, box: [388, 540], bt: 0.15 },
  { row: 1, col: 2, rect: [663, 345, 905, 587], xr: [-3.5, 2], yr: [-2, 4], xt: xTicksWide, yt: yTicksB3, black: b3Black, red: b3Red, blue: b3Blue, box: [671, 540], bt: 0.15 },
  { row: 1, col: 3, rect: [957, 343, 1195, 585], xr: [-3.5, -1], yr: [-2, 3], xt: xTicksNarrow, yt: yTicksSpiral, black: b4Black, red: b4Red, blue: b4Blue, box: [960, 538], bt: 0.15 },
  { row: 2, col: 0, rect: [83, 649, 328, 897], xr: [-3.5, 2], yr: [-2, 5], xt: xTicksWide, yt: yTicksC12, black: c1Black, red: c1Red, blue: c1Blue, box: [90, 848], bt: 0.15 },
  { row: 2, col: 1, rect: [376, 653, 614, 895], xr: [-3.5, 2], yr: [-2, 5], xt: xTicksWide, yt: yTicksC12, black: c2Black, red: c2Red, blue: c2Blue, box: [381, 847], bt: 0.15 },
  { row: 2, col: 2, rect: [663, 658, 903, 895], xr: [-3.5, 2], yr: [-2, 4], xt: xTicksWide, yt: yTicksC3, black: c3Black, red: c3Red, blue: c3Blue, box: [671, 847], bt: 0.15 },
  { row: 2, col: 3, rect: [953, 657, 1195, 890], xr: [-3.5, -1], yr: [-2, 3], xt: xTicksNarrow, yt: yTicksSpiral, black: c4Black, red: c4Red, blue: c4Blue, box: [957, 843], bt: 0.15 },
];

const LEGENDS = [
  { left: 619, top: 1, width: 578, height: 36, s1: 8, t1: 61, s2: 181, t2: 236, m: 385, t3: 416 },
  { left: 579, top: 307, width: 618, height: 37, s1: 8, t1: 61, s2: 199, t2: 253, m: 423, t3: 453 },
  { left: 614, top: 620, width: 583, height: 37, s1: 8, t1: 62, s2: 188, t2: 243, m: 398, t3: 429 },
];

const PL = 50, PT = 16, PR = 16, PB = 46;
const AXIS_COLOR = "#262626";
const SERIF = '"Liberation Serif", "Times New Roman", "DejaVu Serif", serif';
const SANS = '"Liberation Sans", Arial, sans-serif';

const framePlugin = {
  id: "frame",
  afterDatasetsDraw(chart: any) {
    const { ctx, chartArea } = chart;
    const { left, top, right, bottom } = chartArea;
    const xs = chart.scales.x, ys = chart.scales.y;
    ctx.save();
    ctx.strokeStyle = AXIS_COLOR;
    ctx.lineWidth = 1;
    ctx.strokeRect(Math.round(left) + 0.5, Math.round(top) + 0.5, Math.round(right - left) - 1, Math.round(bottom - top) - 1);
    ctx.beginPath();
    xs.ticks.forEach((t: any) => {
      const px = Math.round(xs.getPixelForValue(t.value)) + 0.5;
      ctx.moveTo(px, bottom); ctx.lineTo(px, bottom - 4);
      ctx.moveTo(px, top); ctx.lineTo(px, top + 4);
    });
    ys.ticks.forEach((t: any) => {
      const py = Math.round(ys.getPixelForValue(t.value)) + 0.5;
      ctx.moveTo(left, py); ctx.lineTo(left + 4, py);
      ctx.moveTo(right, py); ctx.lineTo(right - 4, py);
    });
    ctx.stroke();
    ctx.restore();
  },
};

const toXY = (arr: Pt[]) => arr.map(([x, y]) => ({ x, y }));

function Panel({ cfg }: { cfg: PanelCfg }) {
  const ref = useRef<HTMLCanvasElement>(null);
  const [l, t, r, b] = cfg.rect;
  const w = r - l + PL + PR;
  const h = b - t + PT + PB;
  useEffect(() => {
    const tickFont = { family: SERIF, weight: "bold" as const, size: 20 };
    const chart = new Chart(ref.current!, {
      type: "scatter",
      data: {
        datasets: [
          {
            data: toXY(cfg.blue), showLine: false, pointStyle: "rect", pointRadius: 5.2,
            pointBackgroundColor: "#000", pointBorderColor: "#0a0aff", pointBorderWidth: 3, order: 1,
          } as any,
          {
            data: toXY(cfg.red), showLine: true, borderColor: "#ff0000", borderWidth: 6,
            borderDash: [6, 5], borderCapStyle: "butt", pointRadius: 0, tension: 0.35, order: 2,
          } as any,
          {
            data: toXY(cfg.black), showLine: true, borderColor: "#000", borderWidth: 1.8,
            pointRadius: 0, tension: cfg.bt, order: 3,
          } as any,
        ],
      },
      options: {
        responsive: false,
        maintainAspectRatio: false,
        animation: false,
        events: [],
        layout: { padding: { left: 0, top: PT, right: PR, bottom: 0 } },
        plugins: { legend: { display: false }, tooltip: { enabled: false } },
        scales: {
          x: {
            type: "linear", min: cfg.xr[0], max: cfg.xr[1],
            afterBuildTicks: (s: any) => { s.ticks = cfg.xt.map((v) => ({ value: v })); },
            afterFit: (s: any) => { s.height = PB; },
            grid: { color: "#e4e4e4", drawTicks: false },
            border: { display: false },
            ticks: { font: tickFont, color: AXIS_COLOR, padding: 12, maxRotation: 0 },
          },
          y: {
            type: "linear", min: cfg.yr[0], max: cfg.yr[1],
            afterBuildTicks: (s: any) => { s.ticks = cfg.yt.map((v) => ({ value: v })); },
            afterFit: (s: any) => { s.width = PL; },
            grid: { color: "#e4e4e4", drawTicks: false },
            border: { display: false },
            ticks: { font: tickFont, color: AXIS_COLOR, padding: 9 },
          },
        },
      } as any,
      plugins: [framePlugin],
    });
    return () => chart.destroy();
  }, [cfg]);
  return (
    <canvas
      ref={ref}
      width={w}
      height={h}
      style={{ position: "absolute", left: l - PL, top: t - PT, width: w, height: h }}
    />
  );
}

function AlphaBox({ cfg }: { cfg: PanelCfg }) {
  return (
    <div
      style={{
        position: "absolute", left: cfg.box[0], top: cfg.box[1], width: 99, height: 44,
        background: "#aee9fb", display: "flex", alignItems: "center", paddingLeft: 11,
        boxSizing: "border-box", whiteSpace: "nowrap",
      }}
    >
      <span style={{ fontFamily: SERIF, fontStyle: "italic", fontSize: 24, color: "#333" }}>α</span>
      <span style={{ fontFamily: SANS, fontWeight: "bold", fontSize: 21, color: "#000", marginLeft: 7 }}>= {alphas[cfg.col]}</span>
    </div>
  );
}

const supStyle: React.CSSProperties = { fontSize: "62%", position: "relative", top: "-0.55em", verticalAlign: "baseline" };

function LegendBox({ row }: { row: number }) {
  const L = LEGENDS[row];
  const mid = L.height / 2 - 1;
  const txt: React.CSSProperties = {
    position: "absolute", top: 0, height: L.height - 2, display: "flex", alignItems: "center",
    fontFamily: SERIF, fontWeight: "bold", fontSize: 20, color: "#111", whiteSpace: "nowrap", lineHeight: 1,
  };
  const label = (name: string, exp: string) => (
    <>
      {name} (Δ<span style={{ marginLeft: 3 }}>t=2</span><span style={supStyle}>{exp}</span>)
    </>
  );
  return (
    <div
      style={{
        position: "absolute", left: L.left, top: L.top, width: L.width, height: L.height,
        border: `1px solid ${AXIS_COLOR}`, background: "#fff", boxSizing: "border-box",
      }}
    >
      <div style={{ position: "absolute", left: L.s1, top: mid - 1, width: 47, height: 2, background: "#000" }} />
      <span style={{ ...txt, left: L.t1 }}>{label(methodCoarse[row], "-4")}</span>
      <div
        style={{
          position: "absolute", left: L.s2, top: mid - 3, width: 47, height: 6,
          background: "repeating-linear-gradient(90deg, #ff0000 0 6px, transparent 6px 11px)",
        }}
      />
      <span style={{ ...txt, left: L.t2 }}>{label(methodCoarse[row], "-12")}</span>
      <div
        style={{
          position: "absolute", left: L.m - 5, top: mid - 5, width: 10, height: 10,
          background: "#000", border: "3px solid #0a0aff", boxSizing: "border-box",
        }}
      />
      <span style={{ ...txt, left: L.t3 }}>{label(methodGC[row], "-4")}</span>
    </div>
  );
}

const rowTitlePos = [
  { left: 63, top: 3 },
  { left: 53, top: 311 },
  { left: 68, top: 620 },
];

export default function App() {
  return (
    <div style={{ position: "absolute", left: 0, top: 0, width: 1210, height: 962, background: "#fff", overflow: "hidden" }}>
      {PANELS.map((p, i) => (
        <Panel key={i} cfg={p} />
      ))}
      {PANELS.map((p, i) => (
        <AlphaBox key={"b" + i} cfg={p} />
      ))}
      {[0, 1, 2].map((r) => (
        <LegendBox key={"l" + r} row={r} />
      ))}
      {rowTitles.map((tt, i) => (
        <div
          key={"t" + i}
          style={{
            position: "absolute", left: rowTitlePos[i].left, top: rowTitlePos[i].top,
            fontFamily: SERIF, fontWeight: "bold", fontSize: 22, color: "#111", whiteSpace: "nowrap", lineHeight: "22px",
          }}
        >
          {tt}
        </div>
      ))}
      <div
        style={{
          position: "absolute", left: 31, top: 467, transform: "translate(-50%, -50%) rotate(-90deg)",
          fontFamily: SERIF, fontSize: 32, color: "#262626", whiteSpace: "nowrap", lineHeight: 1,
        }}
      >
        <b>E</b>[<b>Ẋ</b>]
      </div>
      <div
        style={{
          position: "absolute", left: 648, top: 937, transform: "translate(-50%, -50%)",
          fontFamily: SERIF, fontSize: 32, color: "#262626", whiteSpace: "nowrap", lineHeight: 1,
        }}
      >
        <b>E</b>[<b>X</b>]
      </div>
    </div>
  );
}
